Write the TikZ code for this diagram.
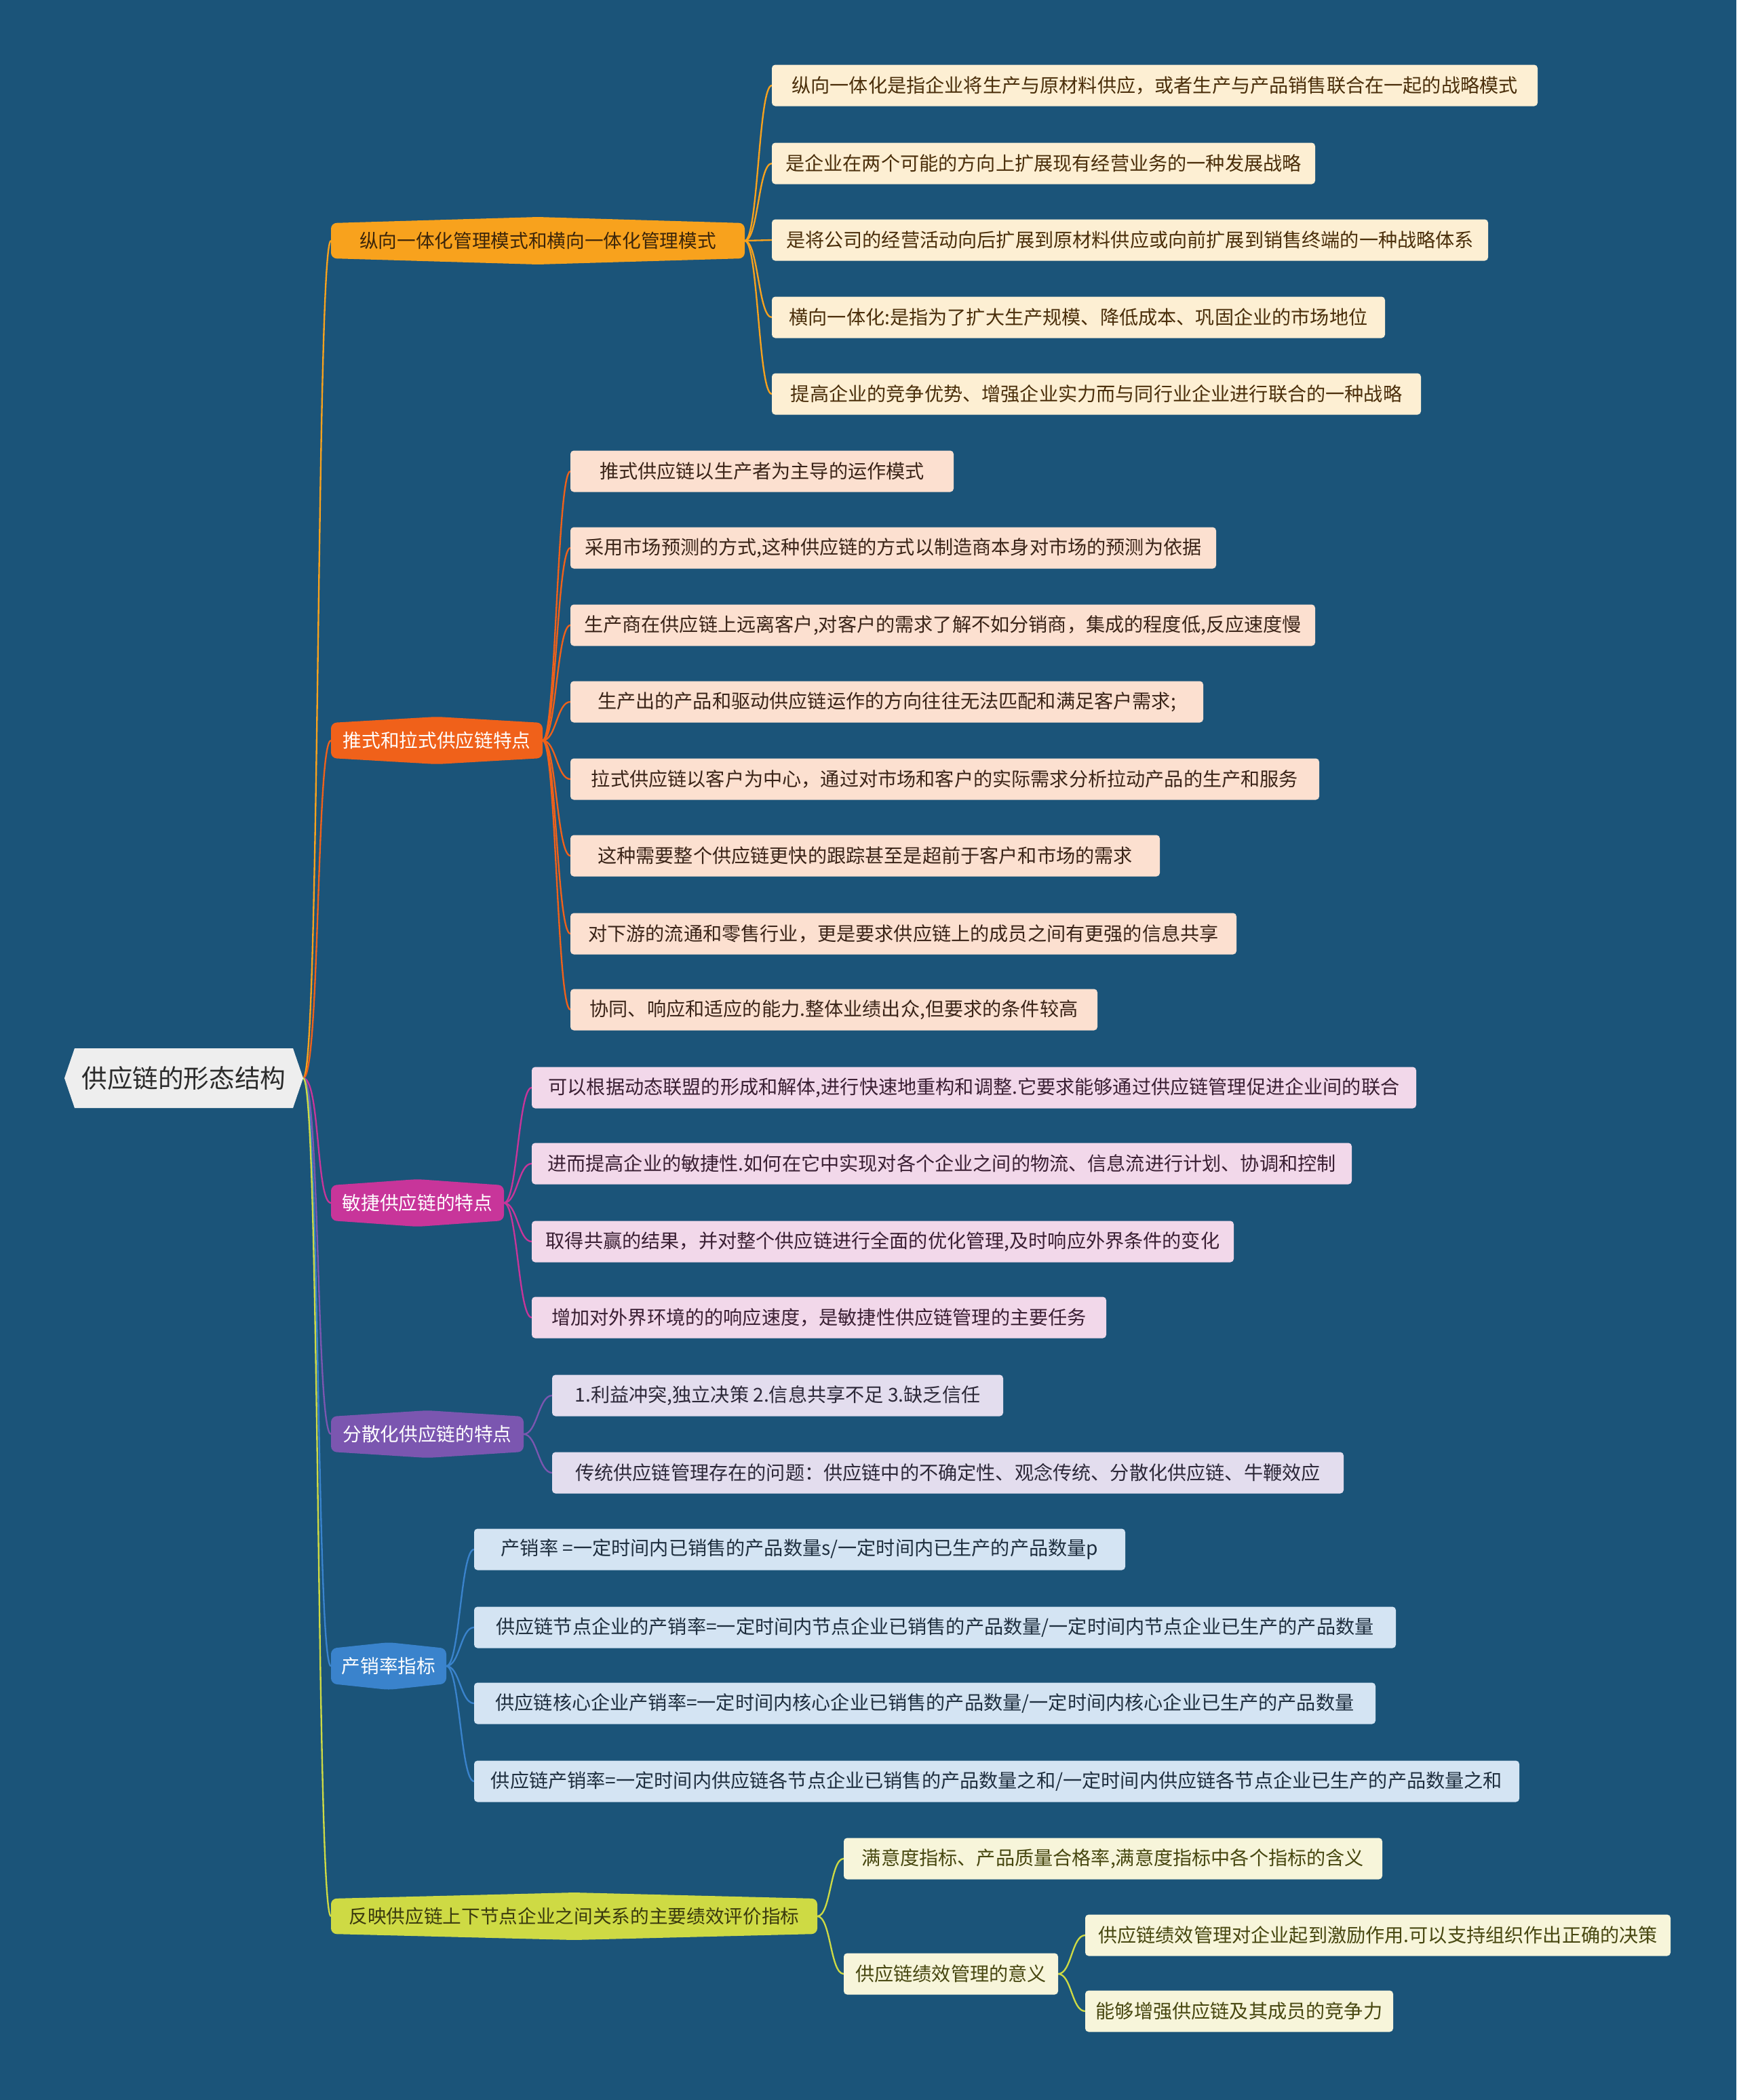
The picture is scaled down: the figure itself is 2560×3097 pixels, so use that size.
\documentclass[tikz,border=0pt]{standalone}
\usepackage{fontspec}
\setmainfont{Noto Sans CJK SC}
\usetikzlibrary{calc,backgrounds}
\definecolor{bg}{RGB}{27,84,121}
\definecolor{cA}{HTML}{F8A21D}\definecolor{fA}{HTML}{FDEFD3}\definecolor{tA}{HTML}{4A2E0A}
\definecolor{cB}{HTML}{F0611A}\definecolor{fB}{HTML}{FCE0D0}\definecolor{tB}{HTML}{3A2418}
\definecolor{cC}{HTML}{C8359A}\definecolor{fC}{HTML}{F2D8EA}\definecolor{tC}{HTML}{3A1F33}
\definecolor{cD}{HTML}{7B56B0}\definecolor{fD}{HTML}{E3DDEE}\definecolor{tD}{HTML}{2C2838}
\definecolor{cE}{HTML}{3A83CC}\definecolor{fE}{HTML}{D4E4F3}\definecolor{tE}{HTML}{1E2E3E}
\definecolor{cF}{HTML}{CEDA44}\definecolor{fF}{HTML}{F7F5DA}\definecolor{tF}{HTML}{474710}
\definecolor{bAt}{HTML}{3B250A}\definecolor{bFt}{HTML}{3A3A0E}
\definecolor{rootfill}{HTML}{EEEEEE}\definecolor{roottext}{HTML}{2B2B2B}
\def\pxu{0.3pt}
\newcommand\brshape[2]{\fill[#2, rounded corners=2.5pt] (#1.north west) -- ($(#1.north)+(0,-9)$) -- (#1.north east) -- (#1.south east) -- ($(#1.south)+(0,9)$) -- (#1.south west) -- cycle;}
\begin{document}
\begin{tikzpicture}[x=0.3pt,y=-0.3pt,
  every node/.style={inner sep=0pt, outer sep=0pt},
  leaf/.style={rounded corners=1.5pt, minimum height=18.3pt, font=\fontsize{8.45pt}{10pt}\selectfont, anchor=west},
  lA/.style={leaf, fill=fA, text=tA}, lB/.style={leaf, fill=fB, text=tB},
  lC/.style={leaf, fill=fC, text=tC}, lD/.style={leaf, fill=fD, text=tD},
  lE/.style={leaf, fill=fE, text=tE}, lF/.style={leaf, fill=fF, text=tF},
  br/.style={minimum height=15.6pt, font=\fontsize{8.3pt}{10pt}\selectfont, anchor=west},
  conn/.style={line width=0.7pt}]
\useasboundingbox (0,0) rectangle (2560,3097);
% root
\node[minimum width=352*\pxu, minimum height=88*\pxu, text=roottext, font=\fontsize{11.3pt}{13pt}\selectfont] (root) at (271,1590) {供应链的形态结构};
% branches
\node[br, minimum width=610*\pxu, text=bAt] (b1) at (488,355) {纵向一体化管理模式和横向一体化管理模式};
\node[br, minimum width=312*\pxu, text=white] (b2) at (488,1092) {推式和拉式供应链特点};
\node[br, minimum width=255*\pxu, text=white] (b3) at (488,1774) {敏捷供应链的特点};
\node[br, minimum width=284*\pxu, text=white] (b4) at (488,2115) {分散化供应链的特点};
\node[br, minimum width=170*\pxu, text=white] (b5) at (488,2457) {产销率指标};
\node[br, minimum width=717*\pxu, text=bFt] (b6) at (488,2826) {反映供应链上下节点企业之间关系的主要绩效评价指标};
% leaves B1
\node[lA, minimum width=1129*\pxu] (a1) at (1138,126) {纵向一体化是指企业将生产与原材料供应，或者生产与产品销售联合在一起的战略模式};
\node[lA, minimum width=801*\pxu] (a2) at (1138,241) {是企业在两个可能的方向上扩展现有经营业务的一种发展战略};
\node[lA, minimum width=1056*\pxu] (a3) at (1138,354) {是将公司的经营活动向后扩展到原材料供应或向前扩展到销售终端的一种战略体系};
\node[lA, minimum width=904*\pxu] (a4) at (1138,468) {横向一体化:是指为了扩大生产规模、降低成本、巩固企业的市场地位};
\node[lA, minimum width=957*\pxu] (a5) at (1138,581) {提高企业的竞争优势、增强企业实力而与同行业企业进行联合的一种战略};
% leaves B2
\node[lB, minimum width=565*\pxu] (p1) at (841,695) {推式供应链以生产者为主导的运作模式};
\node[lB, minimum width=952*\pxu] (p2) at (841,808) {采用市场预测的方式,这种供应链的方式以制造商本身对市场的预测为依据};
\node[lB, minimum width=1098*\pxu] (p3) at (841,922) {生产商在供应链上远离客户,对客户的需求了解不如分销商，集成的程度低,反应速度慢};
\node[lB, minimum width=933*\pxu] (p4) at (841,1035) {生产出的产品和驱动供应链运作的方向往往无法匹配和满足客户需求;};
\node[lB, minimum width=1104*\pxu] (p5) at (841,1149) {拉式供应链以客户为中心，通过对市场和客户的实际需求分析拉动产品的生产和服务};
\node[lB, minimum width=869*\pxu] (p6) at (841,1262) {这种需要整个供应链更快的跟踪甚至是超前于客户和市场的需求};
\node[lB, minimum width=982*\pxu] (p7) at (841,1377) {对下游的流通和零售行业，更是要求供应链上的成员之间有更强的信息共享};
\node[lB, minimum width=777*\pxu] (p8) at (841,1489) {协同、响应和适应的能力.整体业绩出众,但要求的条件较高};
% leaves B3
\node[lC, minimum width=1304*\pxu] (m1) at (784,1604) {可以根据动态联盟的形成和解体,进行快速地重构和调整.它要求能够通过供应链管理促进企业间的联合};
\node[lC, minimum width=1209*\pxu] (m2) at (784,1716) {进而提高企业的敏捷性.如何在它中实现对各个企业之间的物流、信息流进行计划、协调和控制};
\node[lC, minimum width=1035*\pxu] (m3) at (784,1831) {取得共赢的结果，并对整个供应链进行全面的优化管理,及时响应外界条件的变化};
\node[lC, minimum width=847*\pxu] (m4) at (784,1943) {增加对外界环境的的响应速度，是敏捷性供应链管理的主要任务};
% leaves B4
\node[lD, minimum width=665*\pxu] (d1) at (814,2058) {1.利益冲突,独立决策 2.信息共享不足 3.缺乏信任};
\node[lD, minimum width=1167*\pxu] (d2) at (814,2172) {传统供应链管理存在的问题：供应链中的不确定性、观念传统、分散化供应链、牛鞭效应};
% leaves B5
\node[lE, minimum width=960*\pxu] (e1) at (699,2285) {产销率 =一定时间内已销售的产品数量s/一定时间内已生产的产品数量p};
\node[lE, minimum width=1359*\pxu] (e2) at (699,2400) {供应链节点企业的产销率=一定时间内节点企业已销售的产品数量/一定时间内节点企业已生产的产品数量};
\node[lE, minimum width=1329*\pxu] (e3) at (699,2512) {供应链核心企业产销率=一定时间内核心企业已销售的产品数量/一定时间内核心企业已生产的产品数量};
\node[lE, minimum width=1541*\pxu] (e4) at (699,2627) {供应链产销率=一定时间内供应链各节点企业已销售的产品数量之和/一定时间内供应链各节点企业已生产的产品数量之和};
% leaves B6
\node[lF, minimum width=794*\pxu] (f1) at (1244,2741) {满意度指标、产品质量合格率,满意度指标中各个指标的含义};
\node[lF, minimum width=316*\pxu] (f2) at (1244,2911) {供应链绩效管理的意义};
\node[lF, minimum width=863*\pxu] (g1) at (1600,2854) {供应链绩效管理对企业起到激励作用.可以支持组织作出正确的决策};
\node[lF, minimum width=454*\pxu] (g2) at (1600,2966) {能够增强供应链及其成员的竞争力};
\begin{scope}[on background layer]
\fill[bg] (0,0) rectangle (2560,3097);
% root to branches
\foreach \b/\c in {b1/cA,b2/cB,b3/cC,b4/cD,b5/cE,b6/cF}
  \draw[conn,\c] (root.east) .. controls +(25,0) and +(-22,0) .. (\b.west);
\foreach \l in {a1,a2,a3,a4,a5}
  \draw[conn,cA] (b1.east) .. controls +(20,0) and +(-20,0) .. (\l.west);
\foreach \l in {p1,p2,p3,p4,p5,p6,p7,p8}
  \draw[conn,cB] (b2.east) .. controls +(20,0) and +(-20,0) .. (\l.west);
\foreach \l in {m1,m2,m3,m4}
  \draw[conn,cC] (b3.east) .. controls +(20,0) and +(-20,0) .. (\l.west);
\foreach \l in {d1,d2}
  \draw[conn,cD] (b4.east) .. controls +(20,0) and +(-20,0) .. (\l.west);
\foreach \l in {e1,e2,e3,e4}
  \draw[conn,cE] (b5.east) .. controls +(20,0) and +(-20,0) .. (\l.west);
\foreach \l in {f1,f2}
  \draw[conn,cF] (b6.east) .. controls +(20,0) and +(-20,0) .. (\l.west);
\foreach \l in {g1,g2}
  \draw[conn,cF] (f2.east) .. controls +(20,0) and +(-20,0) .. (\l.west);
% shapes
\brshape{b1}{cA}
\brshape{b2}{cB}
\brshape{b3}{cC}
\brshape{b4}{cD}
\brshape{b5}{cE}
\brshape{b6}{cF}
\fill[rootfill] (root.west) -- ($(root.north west)+(15,0)$) -- ($(root.north east)+(-15,0)$) -- (root.east) -- ($(root.south east)+(-15,0)$) -- ($(root.south west)+(15,0)$) -- cycle;
\end{scope}
\end{tikzpicture}
\end{document}
